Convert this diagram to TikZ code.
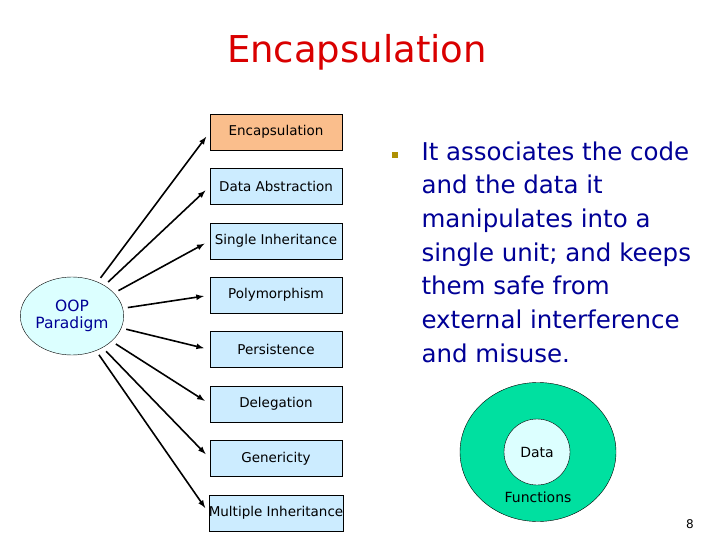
\documentclass[tikz,border=0pt]{standalone}
\usepackage{fontspec}
\setmainfont{DejaVu Sans}
\usetikzlibrary{positioning}
\usetikzlibrary{shapes.geometric}
\definecolor{boxblue}{RGB}{204,236,255}
\definecolor{boxorange}{RGB}{250,190,140}
\definecolor{textblue}{RGB}{0,0,150}
\definecolor{ringgreen}{RGB}{0,224,160}
\definecolor{datacyan}{RGB}{220,255,255}
\tikzset{
	concept/.style={
		rectangle,
		draw,
		fill=boxblue,
		minimum width=132pt,
		minimum height=36pt,
		inner sep=0pt,
		font=\fontsize{13.5}{15}\selectfont
	}
}
\begin{document}
\begin{tikzpicture}[x=1pt,y=-1pt]
		\useasboundingbox (0,0) rectangle (720,540);
		\node[text=red!85!black, font=\fontsize{37}{42}\selectfont](Title) at (357,52){Encapsulation};
		
		\node[concept, fill=boxorange](Encap) at (276,132){Encapsulation};
		\node[concept, below=18pt of Encap](Abstr){Data Abstraction};
		\node[concept, below=18pt of Abstr](Single){Single Inheritance};
		\node[concept, below=18pt of Single](Poly){Polymorphism};
		\node[concept, below=18pt of Poly](Persist){Persistence};
		\node[concept, below=18pt of Persist](Deleg){Delegation};
		\node[concept, below=18pt of Deleg](Generic){Genericity};
		\node[concept, below=18pt of Generic](Multi){Multiple Inheritance};
		
		\node[draw, ellipse, fill=datacyan, minimum width=84pt, minimum height=78pt, inner sep=0pt, align=center, text=textblue, font=\fontsize{15.5}{17}\selectfont](OOP) at (72,316){OOP\\ Paradigm};
		
		\foreach \target in {Encap,Abstr,Single,Poly,Persist,Deleg,Generic,Multi}
			\draw[-latex, line width=1.6pt, shorten <=5pt, shorten >=6pt] (OOP) -- (\target.west);
		
		\node[fill=olive!70!orange, minimum size=6pt, inner sep=0pt](Bullet) at (395,155){};
		\node[anchor=north west, align=left, text=textblue, font=\fontsize{24.5}{33.7}\selectfont](Desc) at (418,138){It associates the code\\ and the data it\\ manipulates into a\\ single unit; and keeps\\ them safe from\\ external interference\\ and misuse.};
		
		\node[draw, ellipse, fill=ringgreen, minimum width=156pt, minimum height=139pt](Ring) at (538,452){};
		\node[draw, circle, fill=datacyan, minimum size=66pt, font=\fontsize{14}{16}\selectfont](Data) at (537,452){Data};
		\node[font=\fontsize{14}{16}\selectfont](Func) at (538,497){Functions};
		\node[font=\fontsize{12}{14}\selectfont](Page) at (690,524){8};
	\end{tikzpicture}
\end{document}
